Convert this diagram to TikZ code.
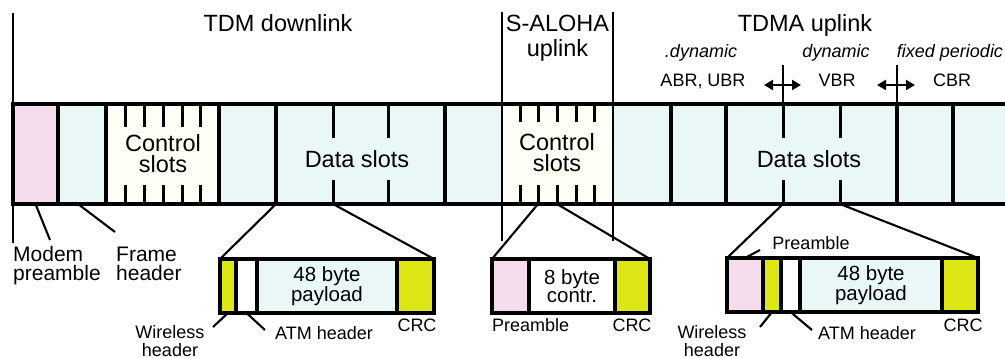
\documentclass[tikz,border=0pt]{standalone}
\usepackage{fontspec}
\setmainfont{Liberation Sans}
\usetikzlibrary{arrows.meta,calc}

\definecolor{modempink}{RGB}{246,221,237}
\definecolor{slotcyan}{RGB}{233,247,246}
\definecolor{ctrlwhite}{RGB}{255,255,248}
\definecolor{crcyellow}{RGB}{221,231,22}

\newcommand{\headFont}{\fontsize{23.5}{25}\selectfont}
\newcommand{\rateFont}{\fontsize{18}{18}\selectfont}
\newcommand{\slotFont}{\fontsize{23.5}{21.5}\selectfont}
\newcommand{\lblFont}{\fontsize{21}{19.5}\selectfont}
\newcommand{\pktFont}{\fontsize{20.5}{18.5}\selectfont}
\newcommand{\smallFont}{\fontsize{18}{17.5}\selectfont}

\begin{document}
\begin{tikzpicture}[x=1pt,y=-1pt,
  cellfill/.style={draw=none,anchor=north west,inner sep=0pt,outer sep=0pt,minimum height=100pt},
  pcell/.style={draw=black,line width=3.1pt,anchor=north west,inner sep=0pt,outer sep=0pt,
                minimum height=54pt,align=center,font=\pktFont},
  sep/.style={line width=3.1pt},
  edge/.style={line width=3.1pt,line cap=rect},
  tickmark/.style={line width=3pt},
  thinline/.style={line width=1.5pt},
  conn/.style={line width=2.1pt},
  arr/.style={line width=2.4pt,{Triangle[length=9pt,width=10pt]}-{Triangle[length=9pt,width=10pt]}},
  head/.style={font=\headFont,anchor=base,align=center,inner sep=0pt},
  rate/.style={font=\rateFont,anchor=base,inner sep=0pt},
  slot/.style={font=\slotFont,anchor=base,align=center,inner sep=0pt},
  lbl/.style={font=\lblFont,anchor=base west,align=left,inner sep=0pt},
  small/.style={font=\smallFont,anchor=base,align=center,inner sep=0pt}
]
\useasboundingbox (0,0) rectangle (1005,358);

% ---------- frame strip ----------
\node[cellfill,fill=modempink,minimum width=45pt]  (c1)  at (13,104)  {};
\node[cellfill,fill=slotcyan,minimum width=48pt]   (c2)  at (58,104)  {};
\node[cellfill,fill=ctrlwhite,minimum width=113pt] (c3)  at (106,104) {};
\node[cellfill,fill=slotcyan,minimum width=57pt]   (c4)  at (219,104) {};
\node[cellfill,fill=slotcyan,minimum width=169pt]  (c5)  at (276,104) {};
\node[cellfill,fill=slotcyan,minimum width=57pt]   (c6)  at (445,104) {};
\node[cellfill,fill=ctrlwhite,minimum width=111pt] (c7)  at (502,104) {};
\node[cellfill,fill=slotcyan,minimum width=58pt]   (c8)  at (613,104) {};
\node[cellfill,fill=slotcyan,minimum width=55pt]   (c9)  at (671,104) {};
\node[cellfill,fill=slotcyan,minimum width=171pt]  (c10) at (726,104) {};
\node[cellfill,fill=slotcyan,minimum width=56pt]   (c11) at (897,104) {};
\node[cellfill,fill=slotcyan,minimum width=52pt]   (c12) at (953,104) {};

% slot separators
\foreach \n in {c1,c2,c3,c4,c5,c6,c9,c10,c11,c12}
  \draw[sep] (\n.north west) -- (\n.south west);
\draw[edge] (c1.north west) -- (c12.north east);
\draw[edge] (c1.south west) -- (c12.south east);

% control slot ticks
\foreach \x in {125,144,163,182,200} {
  \draw[tickmark] (\x,104) -- (\x,127);
  \draw[tickmark] (\x,185) -- (\x,204);
}
\foreach \x in {520,538,557,576,594} {
  \draw[tickmark] (\x,104) -- (\x,122);
  \draw[tickmark] (\x,185) -- (\x,204);
}
% data slot ticks
\foreach \x in {333,388,783,840} {
  \draw[tickmark] (\x,104) -- (\x,138);
  \draw[tickmark] (\x,180) -- (\x,204);
}

% slot texts (base = last line)
\node[slot] (ctl1) at (163,173) {Control\\slots};
\node[slot] (dat1) at (357,168) {Data slots};
\node[slot] (ctl2) at (557,172) {Control\\slots};
\node[slot] (dat2) at (809,168) {Data slots};

% ---------- headings ----------
\coordinate (leftTop) at (13,13);
\coordinate (alohaL) at (502,12);
\coordinate (alohaR) at (613,12);
\coordinate (alohaLb) at (502,241);
\coordinate (alohaRb) at (613,241);
\draw[thinline] (leftTop) -- (c1.north west);
\draw[thinline] (alohaL) -- (alohaLb);
\draw[thinline] (alohaR) -- (alohaRb);

\node[head] (hTDM)   at (278,32) {TDM downlink};
\node[head] (hALOHA) at (557.5,57) {S-ALOHA\\uplink};
\node[head] (hTDMA)  at (805,32) {TDMA uplink};

\node[rate] (r1) at (701,58) {\itshape .dynamic};
\node[rate] (r2) at (836,58) {\itshape dynamic};
\node[rate] (r3) at (950,58) {\itshape fixed periodic};
\node[rate] (s1) at (703,87) {ABR, UBR};
\node[rate] (s2) at (837,87) {VBR};
\node[rate] (s3) at (952,87) {CBR};

% service class boundaries
\coordinate (bA) at (783,65);
\coordinate (bB) at (897,65);
\coordinate (bAs) at (783,104);
\draw[thinline] (bA) -- (bAs);
\draw[thinline] (bB) -- (c11.north west);
\coordinate (aA1) at (764,85); \coordinate (aA2) at (801,85);
\coordinate (aB1) at (877,85); \coordinate (aB2) at (915,85);
\draw[arr] (aA1) -- (aA2);
\draw[arr] (aB1) -- (aB2);

% ---------- downlink labels ----------
\coordinate (leftFoot) at (13,243);
\draw[thinline] (c1.south west) -- (leftFoot);
\coordinate (mpTip) at (50,240);
\draw[conn] (c1.south) -- (mpTip);
\coordinate (fhTip) at (115,232);
\draw[conn] ($(c2.south west)+(20,0)$) -- (fhTip);
\node[lbl] (lMP) at (13,281) {Modem\\preamble};
\node[lbl] (lFH) at (116,281) {Frame\\header};

% ---------- TDM data cell ----------
\node[pcell,fill=crcyellow,minimum width=16pt]  (p1w) at (220,259) {};
\node[pcell,fill=white,minimum width=21pt]      (p1a) at (236,259) {};
\node[pcell,fill=slotcyan,minimum width=140pt]  (p1p) at (257,259) {48 byte\\payload};
\node[pcell,fill=crcyellow,minimum width=37pt]  (p1c) at (397,259) {};
\coordinate (d1) at (333,204);
\draw[conn] (c5.south west) -- (p1w.north west);
\draw[conn] (d1) -- (p1c.north east);

\coordinate (w1Tip) at (213,327);
\coordinate (a1Tip) at (265,330);
\draw[conn] (p1w.south) -- (w1Tip);
\draw[conn] (p1a.south) -- (a1Tip);
\node[small] (lW1) at (170,356) {Wireless\\header};
\node[small,anchor=base west] (lA1) at (275,340) {ATM header};
\node[small] (lC1) at (417,332) {CRC};

% ---------- S-ALOHA control cell ----------
\node[pcell,fill=modempink,minimum width=37pt]  (p2pre) at (492,259) {};
\node[pcell,fill=white,minimum width=86pt]      (p2ctl) at (529,259) {8 byte\\contr.};
\node[pcell,fill=crcyellow,minimum width=35pt]  (p2c)   at (615,259) {};
\coordinate (k1) at (538,204);
\coordinate (k2) at (557,204);
\draw[conn] (k1) -- (p2pre.north west);
\draw[conn] (k2) -- (p2c.north east);
\node[small,anchor=base west] (lP2) at (492,332) {Preamble};
\node[small] (lC2) at (632,332) {CRC};

% ---------- TDMA data cell ----------
\node[pcell,fill=modempink,minimum width=36pt]  (p3pre) at (727,258) {};
\node[pcell,fill=crcyellow,minimum width=18pt]  (p3w)   at (763,258) {};
\node[pcell,fill=white,minimum width=19pt]      (p3a)   at (781,258) {};
\node[pcell,fill=slotcyan,minimum width=142pt]  (p3p)   at (800,258) {48 byte\\payload};
\node[pcell,fill=crcyellow,minimum width=36pt]  (p3c)   at (942,258) {};
\coordinate (d2) at (783,204);
\coordinate (d3) at (840,204);
\draw[conn] (d2) -- (p3pre.north west);
\draw[conn] (d3) -- (p3c.north east);

\coordinate (pTip) at (760,250);
\draw[conn] (p3pre.north) -- (pTip);
\node[small] (lP3) at (811,250) {Preamble};
\coordinate (w3Tip) at (760,327);
\coordinate (a3Tip) at (812,330);
\draw[conn] (p3w.south) -- (w3Tip);
\draw[conn] (p3a.south) -- (a3Tip);
\node[small] (lW3) at (712,356) {Wireless\\header};
\node[small,anchor=base west] (lA3) at (818,340) {ATM header};
\node[small] (lC3) at (963,332) {CRC};
\end{tikzpicture}
\end{document}
